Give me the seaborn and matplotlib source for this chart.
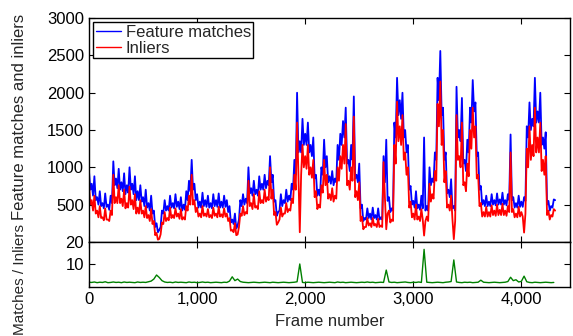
import numpy as np
import pandas as pd
import matplotlib
matplotlib.use('Agg')
import matplotlib.pyplot as plt
from matplotlib.ticker import FuncFormatter
import seaborn as sns

sns.set_style('ticks')
plt.rcParams['font.family'] = ['Liberation Sans', 'DejaVu Sans']
plt.rcParams['font.size'] = 12

# values: band top every 25 frames, band bottom halfway between
step = 25
matches = [950, 780, 880, 600, 680, 520, 650, 500, 620, 1080,
           850, 980, 800, 920, 760, 1000, 780, 880, 680, 760,
           600, 700, 520, 620, 420, 250, 160, 420, 560, 480,
           620, 520, 640, 540, 600, 500, 680, 820, 1100, 780,
           640, 540, 660, 560, 620, 520, 640, 560, 650, 540,
           620, 560, 480, 300, 380, 220, 560, 640, 580, 1000,
           720, 820, 700, 880, 780, 900, 820, 1150, 900, 560,
           400, 640, 560, 700, 620, 780, 1100, 2000, 1350, 1650,
           1450, 1600, 1300, 1400, 900, 700, 1000, 1370, 1150, 880,
           950, 850, 1300, 1450, 1620, 1800, 1100, 1300, 1950, 900,
           1050, 500, 320, 450, 380, 460, 360, 450, 330, 1150,
           1370, 600, 450, 1600, 2200, 1900, 2000, 1500, 1300, 750,
           550, 680, 500, 620, 1400, 480, 1000, 850, 1200, 2200,
           2560, 1800, 1200, 700, 840, 480, 2080, 1500, 1930, 1100,
           1370, 1800, 2170, 1870, 1200, 750, 560, 620, 540, 640,
           560, 650, 570, 660, 560, 640, 1440, 600, 520, 620,
           540, 600, 1550, 1870, 1650, 2200, 1750, 2000, 1400, 1470,
           550, 480, 570]
matches_lo = [700, 620, 560, 500, 480, 450, 470, 430, 520, 760,
              720, 700, 680, 640, 660, 700, 640, 560, 560, 540,
              480, 460, 420, 380, 200, 130, 200, 380, 420, 420,
              460, 450, 470, 440, 420, 430, 560, 680, 700, 560,
              460, 460, 480, 470, 460, 450, 480, 470, 460, 460,
              470, 400, 260, 240, 180, 300, 480, 500, 520, 650,
              620, 640, 620, 700, 700, 720, 760, 800, 540, 350,
              420, 480, 520, 540, 560, 700, 900, 1200, 1200, 1300,
              1300, 1200, 1150, 850, 620, 620, 900, 1000, 800, 780,
              760, 800, 1100, 1300, 1400, 1050, 950, 1100, 850, 800,
              450, 280, 300, 320, 300, 320, 300, 300, 300, 800,
              550, 400, 420, 1400, 1700, 1650, 1400, 1200, 700, 500,
              460, 450, 430, 450, 420, 420, 760, 800, 1100, 1900,
              1700, 1100, 650, 600, 450, 420, 1400, 1350, 1050, 950,
              1200, 1600, 1750, 1150, 700, 500, 480, 480, 480, 500,
              490, 500, 500, 500, 490, 560, 560, 460, 460, 470,
              470, 550, 1400, 1500, 1550, 1600, 1600, 1300, 1250, 500,
              420, 460, 560]

inliers = [780, 560, 620, 420, 480, 330, 450, 300, 420, 900,
           600, 760, 580, 700, 520, 740, 560, 640, 460, 560,
           420, 480, 360, 440, 280, 120, 40, 260, 400, 320,
           460, 360, 450, 380, 440, 330, 480, 620, 900, 560,
           460, 380, 480, 380, 440, 360, 460, 380, 470, 370,
           450, 380, 320, 160, 250, 100, 380, 480, 400, 820,
           520, 640, 480, 680, 560, 700, 600, 1000, 700, 400,
           260, 460, 380, 520, 440, 580, 900, 1600, 130, 1300,
           1150, 1300, 1000, 1100, 680, 500, 760, 1100, 900, 640,
           720, 620, 1000, 1150, 1300, 1580, 820, 1000, 1680, 680,
           800, 340, 200, 320, 250, 320, 240, 310, 220, 1070,
           170, 420, 300, 1300, 1880, 1550, 1700, 1200, 1000, 540,
           380, 500, 340, 440, 85, 340, 780, 640, 950, 1850,
           2150, 1500, 950, 500, 620, 37, 1700, 1150, 1600, 800,
           1050, 1500, 1800, 1550, 900, 520, 400, 470, 400, 490,
           420, 500, 430, 510, 420, 480, 1200, 440, 380, 470,
           400, 125, 1250, 1550, 1300, 1800, 1400, 1600, 1100, 1150,
           420, 360, 440]
inliers_lo = [500, 420, 380, 330, 320, 290, 300, 280, 360, 520,
              520, 520, 480, 450, 460, 500, 440, 380, 380, 380,
              330, 320, 280, 240, 90, 30, 100, 240, 280, 290,
              320, 320, 340, 310, 300, 300, 420, 500, 500, 400,
              340, 330, 350, 340, 330, 320, 350, 330, 340, 330,
              340, 280, 150, 130, 90, 200, 350, 360, 380, 480,
              440, 460, 440, 520, 520, 540, 560, 580, 360, 230,
              300, 340, 380, 400, 420, 520, 700, 900, 900, 1000,
              980, 900, 860, 600, 440, 460, 660, 760, 580, 560,
              540, 580, 820, 980, 1050, 760, 700, 820, 600, 560,
              280, 170, 200, 220, 200, 220, 200, 200, 200, 600,
              380, 260, 280, 1050, 1350, 1300, 1100, 900, 460, 330,
              300, 300, 280, 300, 280, 280, 540, 580, 820, 1550,
              1300, 800, 460, 420, 300, 280, 1100, 1000, 760, 680,
              880, 1250, 1400, 850, 480, 340, 340, 340, 340, 360,
              350, 360, 360, 360, 350, 400, 400, 330, 330, 340,
              340, 380, 1000, 1100, 1150, 1200, 1200, 950, 900, 360,
              300, 340, 420]

ratio = [2.1, 2.0, 2.2, 1.9, 2.1, 2.0, 2.3, 1.9, 2.0, 2.2,
         2.0, 2.1, 1.9, 2.2, 2.0, 2.1, 2.0, 1.9, 2.2, 2.0,
         2.1, 2.0, 2.3, 2.6, 3.5, 5.3, 4.2, 2.8, 2.2, 2.0,
         2.1, 1.9, 2.2, 2.0, 2.1, 2.0, 1.9, 2.2, 2.0, 2.1,
         1.9, 2.0, 2.2, 2.0, 2.1, 1.9, 2.0, 2.1, 2.0, 1.9,
         2.1, 2.0, 2.6, 4.5, 2.8, 3.5, 2.4, 2.1, 2.0, 1.9,
         2.0, 2.1, 2.0, 1.9, 2.0, 2.1, 2.0, 1.9, 2.1, 2.0,
         1.9, 2.0, 2.1, 2.0, 1.9, 2.0, 2.1, 2.3, 10.2, 2.0,
         1.9, 2.1, 2.0, 1.9, 2.0, 2.1, 2.0, 1.9, 2.0, 2.1,
         2.0, 1.9, 2.2, 2.0, 2.1, 1.9, 2.0, 2.1, 2.0, 1.9,
         2.0, 2.1, 2.0, 2.2, 2.0, 2.1, 1.9, 2.0, 2.1, 2.0,
         7.5, 2.2, 2.0, 2.1, 1.9, 2.0, 2.1, 2.2, 2.0, 1.9,
         2.1, 2.0, 2.2, 2.0, 16.7, 2.1, 2.0, 1.9, 2.0, 2.1,
         2.0, 1.9, 2.1, 2.2, 2.4, 12.0, 2.2, 2.0, 1.9, 2.1,
         2.0, 2.1, 1.9, 2.0, 2.1, 3.0, 2.1, 2.0, 1.9, 2.0,
         2.1, 2.0, 1.9, 2.0, 2.1, 2.4, 4.3, 2.8, 3.2, 2.2,
         2.5, 4.8, 2.3, 2.0, 1.9, 2.1, 2.0, 1.9, 2.0, 2.1,
         2.0, 1.9, 2.0]

frames = np.arange(len(matches)) * step
df = pd.DataFrame({'frame': frames, 'ratio': ratio})

# band top and band bottom go in turn along the frame axis
dense = pd.DataFrame({
    'frame': np.column_stack([frames, frames + step / 2]).ravel(),
    'matches': np.column_stack([matches, matches_lo]).ravel(),
    'inliers': np.column_stack([inliers, inliers_lo]).ravel(),
})

fig = plt.figure(figsize=(5.73, 3.36), dpi=100)
ax1 = fig.add_axes([0.1553, 0.280, 0.8395, 0.666])
ax2 = fig.add_axes([0.1553, 0.146, 0.8395, 0.134])

sns.lineplot(data=dense, x='frame', y='matches', ax=ax1, color='#0000ff',
             linewidth=1.3, label='Feature matches')
sns.lineplot(data=dense, x='frame', y='inliers', ax=ax1, color='#ff0000',
             linewidth=1.3, label='Inliers')
sns.lineplot(data=df, x='frame', y='ratio', ax=ax2, color='#008000',
             linewidth=1.0)

for ax in (ax1, ax2):
    ax.set_xlim(0, 4450)
    ax.tick_params(direction='in', top=True, right=True, length=4,
                   width=0.8, labelsize=12, colors='black')
    for s in ax.spines.values():
        s.set_visible(True)
        s.set_color('black')
        s.set_linewidth(1.0)
    ax.set_xticks([0, 1000, 2000, 3000, 4000])

ax1.set_ylim(0, 3000)
ax1.set_yticks([500, 1000, 1500, 2000, 2500, 3000])
ax1.set_xticklabels([])
ax1.set_xlabel('')
ax1.set_ylabel('Feature matches and inliers', fontsize=12)
ax1.yaxis.set_label_coords(-0.128, 0.56)

ax2.set_ylim(0, 20)
ax2.set_yticks([10, 20])
ax2.xaxis.set_major_formatter(FuncFormatter(lambda v, p: f'{int(v):,}'))
ax2.set_xlabel('Frame number', fontsize=12, labelpad=5)
ax2.set_ylabel('Matches / Inliers', fontsize=11)
ax2.yaxis.set_label_coords(-0.128, 0.165)

leg = ax1.legend(loc='upper left', frameon=True, fancybox=False,
                 edgecolor='black', framealpha=1, fontsize=12,
                 handlelength=1.5, handletextpad=0.3, borderpad=0.15,
                 labelspacing=0.05, borderaxespad=0.25)
leg.get_frame().set_linewidth(1.0)
for h in leg.get_lines():
    h.set_linewidth(1.0)

fig.savefig('out.png', dpi=100)
